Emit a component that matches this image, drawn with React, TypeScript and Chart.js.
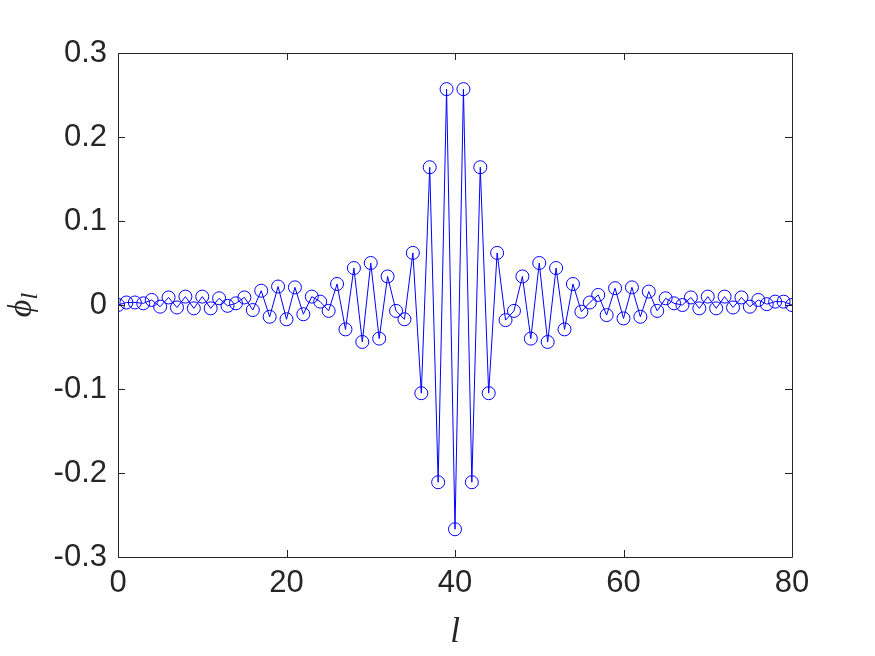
import React, { useEffect, useRef } from "react";
import { Chart, registerables } from "chart.js";

Chart.register(...registerables);

const lValues: number[] = Array.from({ length: 81 }, (_, i) => i);
const phiValues: number[] = [
  0.0, 0.003, 0.003, 0.002, 0.006, -0.002, 0.009, -0.003, 0.01, -0.004,
  0.01, -0.004, 0.008, -0.001, 0.002, 0.009, -0.006, 0.017, -0.014, 0.022,
  -0.017, 0.021, -0.011, 0.01, 0.004, -0.007, 0.025, -0.029, 0.044, -0.044,
  0.05, -0.04, 0.034, -0.007, -0.017, 0.062, -0.105, 0.164, -0.211, 0.257,
  -0.267, 0.257, -0.211, 0.164, -0.105, 0.062, -0.018, -0.007, 0.034, -0.04,
  0.05, -0.044, 0.044, -0.029, 0.025, -0.008, 0.003, 0.012, -0.012, 0.02,
  -0.016, 0.021, -0.014, 0.016, -0.007, 0.008, 0.002, 0.0, 0.009, -0.004,
  0.01, -0.004, 0.01, -0.003, 0.009, -0.002, 0.006, 0.001, 0.004, 0.004, 0.0,
];
const xTicks: number[] = [0, 20, 40, 60, 80];
const yTicks: number[] = [-0.3, -0.2, -0.1, 0, 0.1, 0.2, 0.3];

const AXIS_COLOR = "#262626";
const TICK_FONT = "Liberation Sans, Arial, Helvetica, sans-serif";
const SERIF = "'Liberation Serif', 'DejaVu Serif', serif";

const boxPlugin = {
  id: "matlabBox",
  afterDraw(chart: any) {
    const { ctx, chartArea } = chart;
    const { left, right, top, bottom } = chartArea;
    const xs = chart.scales.x;
    const ys = chart.scales.y;
    ctx.save();
    ctx.strokeStyle = AXIS_COLOR;
    ctx.lineWidth = 1;
    ctx.beginPath();
    ctx.rect(Math.round(left) + 0.5, Math.round(top) + 0.5, Math.round(right - left), Math.round(bottom - top));
    ctx.stroke();
    const tl = 7;
    ctx.beginPath();
    xTicks.forEach((v) => {
      const px = Math.round(xs.getPixelForValue(v)) + 0.5;
      ctx.moveTo(px, bottom);
      ctx.lineTo(px, bottom - tl);
      ctx.moveTo(px, top);
      ctx.lineTo(px, top + tl);
    });
    yTicks.forEach((v) => {
      const py = Math.round(ys.getPixelForValue(v)) + 0.5;
      ctx.moveTo(left, py);
      ctx.lineTo(left + tl, py);
      ctx.moveTo(right, py);
      ctx.lineTo(right - tl, py);
    });
    ctx.stroke();

    // axis titles
    ctx.fillStyle = AXIS_COLOR;
    ctx.textBaseline = "alphabetic";
    ctx.textAlign = "center";
    ctx.font = "italic 35px " + SERIF;
    ctx.fillText("l", (left + right) / 2, 642);

    ctx.translate(31, (top + bottom) / 2);
    ctx.rotate(-Math.PI / 2);
    ctx.textAlign = "left";
    const phi = "ϕ";
    ctx.font = "italic 34px " + SERIF;
    const wPhi = ctx.measureText(phi).width;
    ctx.font = "italic 24px " + SERIF;
    const wL = ctx.measureText("l").width;
    const total = wPhi + wL;
    ctx.font = "italic 34px " + SERIF;
    ctx.fillText(phi, -total / 2, 0);
    ctx.font = "italic 24px " + SERIF;
    ctx.fillText("l", -total / 2 + wPhi, 6);
    ctx.restore();
  },
};

export default function App() {
  const canvasRef = useRef<HTMLCanvasElement | null>(null);

  useEffect(() => {
    document.body.style.margin = "0";
    const canvas = canvasRef.current;
    if (!canvas) return;
    const chart = new Chart(canvas, {
      type: "line",
      data: {
        datasets: [
          {
            data: lValues.map((l, i) => ({ x: l, y: phiValues[i] })),
            borderColor: "#0000ff",
            borderWidth: 1,
            pointStyle: "circle",
            pointRadius: 6.5,
            pointBorderWidth: 1,
            pointBorderColor: "#0000ff",
            pointBackgroundColor: "rgba(0,0,0,0)",
            tension: 0,
            fill: false,
          },
        ],
      },
      options: {
        responsive: false,
        animation: false,
        devicePixelRatio: 1,
        layout: { padding: { top: 53, right: 83, left: 0, bottom: 0 } },
        plugins: {
          legend: { display: false },
          tooltip: { enabled: false },
        },
        scales: {
          x: {
            type: "linear",
            min: 0,
            max: 80,
            afterBuildTicks: (scale: any) => {
              scale.ticks = xTicks.map((v) => ({ value: v }));
            },
            afterFit: (scale: any) => {
              scale.height = 99;
            },
            grid: { display: false, drawTicks: false },
            border: { display: false },
            ticks: {
              padding: 8,
              color: AXIS_COLOR,
              font: { family: TICK_FONT, size: 31 },
              maxRotation: 0,
              callback: (v: any) => String(v),
            },
          },
          y: {
            type: "linear",
            min: -0.3,
            max: 0.3,
            afterBuildTicks: (scale: any) => {
              scale.ticks = yTicks.map((v) => ({ value: v }));
            },
            afterFit: (scale: any) => {
              scale.width = 118;
            },
            grid: { display: false, drawTicks: false },
            border: { display: false },
            ticks: {
              padding: 11,
              color: AXIS_COLOR,
              font: { family: TICK_FONT, size: 31 },
              callback: (v: any) => {
                const r = Math.round(Number(v) * 10) / 10;
                return r === 0 ? "0" : r.toFixed(1);
              },
            },
          },
        },
      },
      plugins: [boxPlugin],
    });
    return () => chart.destroy();
  }, []);

  return (
    <div style={{ position: "absolute", left: 0, top: 0, width: 875, height: 656, background: "#ffffff" }}>
      <canvas ref={canvasRef} width={875} height={656} style={{ display: "block", width: 875, height: 656 }} />
    </div>
  );
}
